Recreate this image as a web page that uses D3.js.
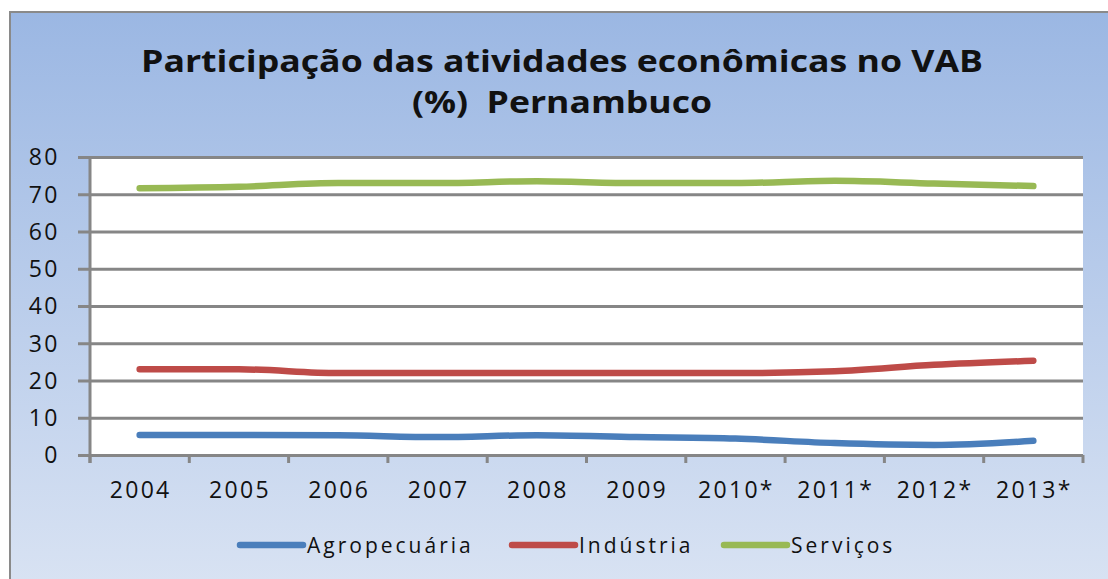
<!DOCTYPE html>
<meta charset="utf-8" />
<script src="https://d3js.org/d3.v7.min.js"></script>
<div id="chart"></div>
<script>
  // data
  const years = ["2004", "2005", "2006", "2007", "2008", "2009", "2010*", "2011*", "2012*", "2013*"];
  const agro = [5.4, 5.4, 5.3, 4.8, 5.3, 4.8, 4.4, 3.2, 2.7, 3.8];
  const industria = [23.0, 23.0, 22.0, 22.0, 22.0, 22.0, 22.0, 22.5, 24.2, 25.3];
  const servicos = [71.6, 72.0, 73.0, 73.0, 73.5, 73.0, 73.0, 73.6, 72.9, 72.2];
  const seriesNames = ["Agropecuária", "Indústria", "Serviços"];
  const seriesColors = ["#4a7ebb", "#be4b48", "#98b954"];
  const yTicks = [0, 10, 20, 30, 40, 50, 60, 70, 80];

  const W = 1108, H = 579;
  const plot = { left: 90, right: 1083, top: 157, bottom: 455 };
  const font = "'Open Sans', sans-serif";

  const svg = d3.select("#chart").append("svg")
    .attr("width", W).attr("height", H)
    .style("display", "block");

  const defs = svg.append("defs");
  const grad = defs.append("linearGradient").attr("id", "bg")
    .attr("x1", 0).attr("y1", 0).attr("x2", 0).attr("y2", 1);
  grad.append("stop").attr("offset", "0%").attr("stop-color", "#9bb7e3");
  grad.append("stop").attr("offset", "100%").attr("stop-color", "#d9e3f3");

  svg.append("rect").attr("width", W).attr("height", H).attr("fill", "#fff");
  svg.append("rect").attr("x", 10).attr("y", 12).attr("width", W).attr("height", H)
    .attr("fill", "url(#bg)").attr("stroke", "#8a8a8a").attr("stroke-width", 2);

  // title
  const title = svg.append("text")
    .attr("text-anchor", "middle")
    .style("font-family", font)
    .style("font-weight", "bold")
    .style("font-size", "30px")
    .style("white-space", "pre")
    .attr("fill", "#111");
  title.append("tspan").attr("x", 562).attr("y", 72)
    .attr("textLength", 842).attr("lengthAdjust", "spacingAndGlyphs")
    .text("Participação das atividades econômicas no VAB");
  title.append("tspan").attr("x", 562).attr("y", 113)
    .attr("textLength", 300).attr("lengthAdjust", "spacingAndGlyphs")
    .text("(%)  Pernambuco");

  const x = d3.scaleBand().domain(years).range([plot.left, plot.right]);
  const y = d3.scaleLinear().domain([0, 80]).range([plot.bottom, plot.top]);

  svg.append("rect")
    .attr("x", plot.left).attr("y", plot.top)
    .attr("width", plot.right - plot.left).attr("height", plot.bottom - plot.top)
    .attr("fill", "#fff");

  // y axis with gridlines
  const yAxis = svg.append("g")
    .attr("transform", `translate(${plot.left},0)`)
    .call(d3.axisLeft(y).tickValues(yTicks)
      .tickSizeInner(-(plot.right - plot.left)).tickSizeOuter(0));
  yAxis.select(".domain").remove();
  yAxis.selectAll(".tick line")
    .attr("x1", -12)
    .attr("stroke", "#868686").attr("stroke-width", 3);
  yAxis.selectAll(".tick text")
    .attr("x", -30)
    .attr("dy", "0.34em")
    .style("font-family", font)
    .style("font-size", "23px")
    .style("letter-spacing", "2.5px")
    .attr("fill", "#111");

  // vertical axis line
  svg.append("line")
    .attr("x1", plot.left).attr("x2", plot.left)
    .attr("y1", plot.top - 1).attr("y2", plot.bottom + 8)
    .attr("stroke", "#868686").attr("stroke-width", 3);

  // x axis
  const xAxis = svg.append("g")
    .attr("transform", `translate(0,${plot.bottom})`)
    .call(d3.axisBottom(x).tickSize(0).tickPadding(27));
  xAxis.select(".domain").remove();
  xAxis.selectAll(".tick text")
    .attr("dx", "1px")
    .style("font-family", font)
    .style("font-size", "23px")
    .style("letter-spacing", "2.3px")
    .attr("fill", "#111");
  const bounds = years.map((d) => x(d)).concat([plot.right]);
  svg.append("g").selectAll("line").data(bounds).join("line")
    .attr("x1", (d) => d).attr("x2", (d) => d)
    .attr("y1", plot.bottom).attr("y2", plot.bottom + 8)
    .attr("stroke", "#868686").attr("stroke-width", 3);

  // lines
  const data = [agro, industria, servicos];
  const line = d3.line()
    .x((d, i) => x(years[i]) + x.bandwidth() / 2)
    .y((d) => y(d))
    .curve(d3.curveMonotoneX);
  svg.append("g").selectAll("path").data(data).join("path")
    .attr("d", line)
    .attr("fill", "none")
    .attr("stroke", (d, i) => seriesColors[i])
    .attr("stroke-width", 6.5)
    .attr("stroke-linecap", "round")
    .attr("stroke-linejoin", "round");

  // legend
  const legendX = [240, 512, 724];
  const lg = svg.append("g").selectAll("g").data(seriesNames).join("g")
    .attr("transform", (d, i) => `translate(${legendX[i]},545)`);
  lg.append("line")
    .attr("x1", 0).attr("x2", 63)
    .attr("stroke", (d, i) => seriesColors[i])
    .attr("stroke-width", 6.5).attr("stroke-linecap", "round");
  lg.append("text")
    .attr("x", 67).attr("y", 8)
    .style("font-family", font)
    .style("font-size", "21px")
    .style("letter-spacing", "3px")
    .attr("fill", "#111")
    .text((d) => d);
</script>
<style>
  body { margin: 0; background: #fff; }
</style>
